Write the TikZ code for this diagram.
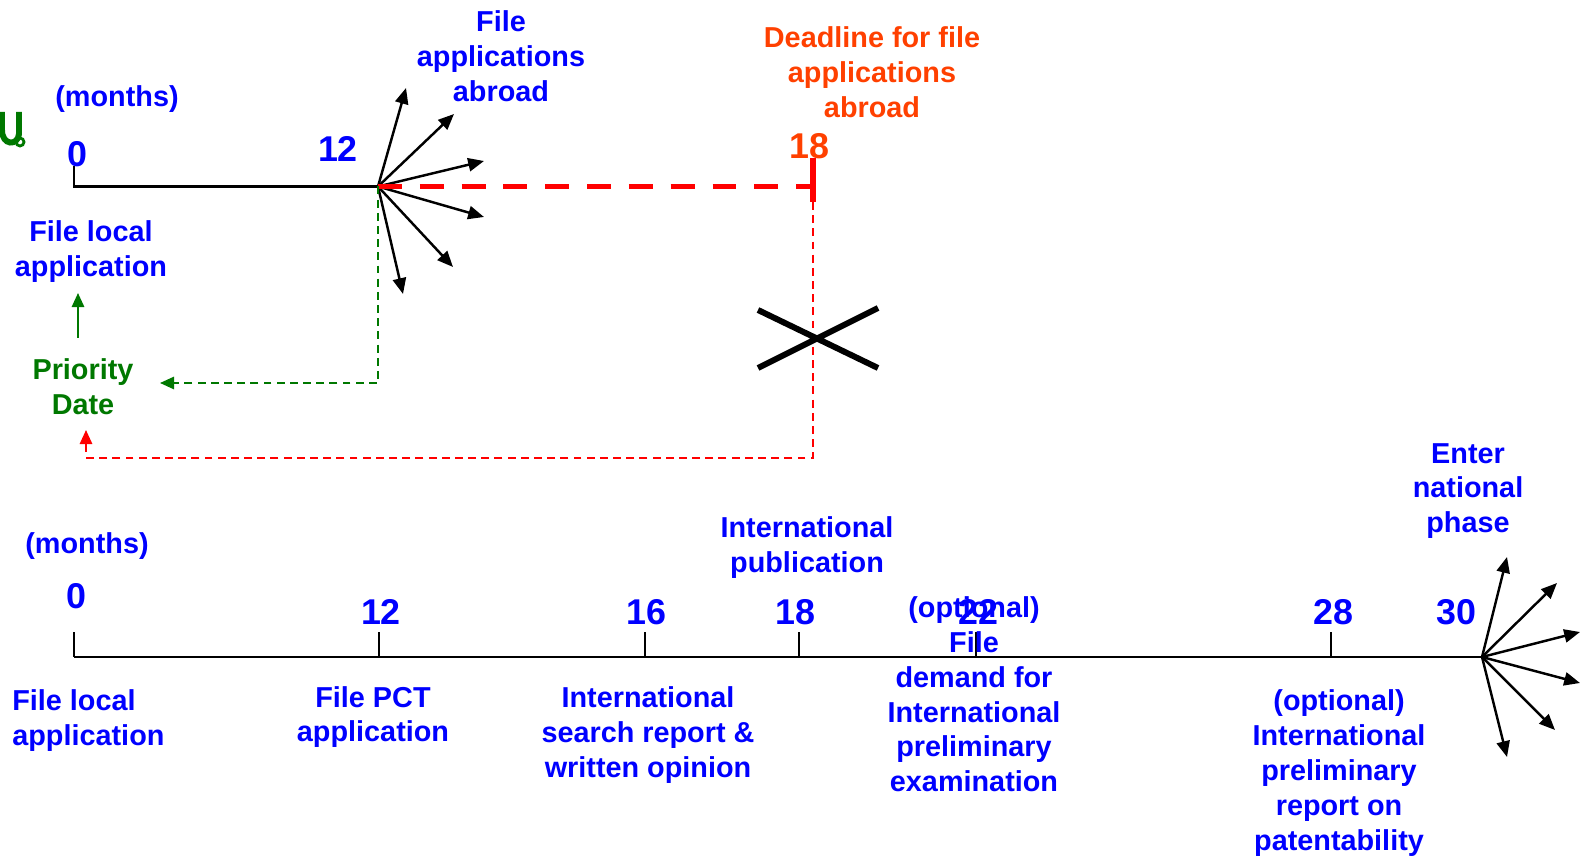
\documentclass[tikz,border=0pt]{standalone}
\usepackage{fontspec}
\setmainfont{Liberation Sans}
\usetikzlibrary{arrows.meta}
\definecolor{tblue}{RGB}{0,0,255}
\definecolor{tgreen}{RGB}{0,120,0}
\definecolor{tred}{RGB}{255,0,0}
\definecolor{torange}{RGB}{255,64,0}
\begin{document}
\begin{tikzpicture}[x=0.02cm,y=-0.02cm,
 lbl/.style={font=\bfseries\fontsize{16.4}{19.8}\selectfont, text=tblue, align=center, inner sep=0pt, yshift=-1.7pt},
 num/.style={font=\bfseries\fontsize{20.4}{24}\selectfont, text=tblue, inner sep=0pt},
 axis/.style={line width=1.2pt, draw=black},
 fan/.style={line width=1.4pt, -{Triangle[length=9pt,width=7.5pt]}},
 thickred/.style={draw=tred, line width=3.4pt},
 thindash/.style={line width=1.2pt, dash pattern=on 4.5pt off 3pt},
]
\useasboundingbox (0,0) rectangle (1581,857);

% clipped green glyph at left edge
\draw[tgreen, line width=3.4pt] (2,112) -- (2,130) .. controls (2,146) and (18,146) .. (19,134) -- (19,112);
\draw[tgreen, line width=1.6pt] (20,142) circle (4);

%% ---------- top timeline ----------
\coordinate (t0) at (74,186.5);
\coordinate (t0top) at (74,166);
\coordinate (f1) at (378,186.5);
\coordinate (r18) at (813,186.5);
\coordinate (r18top) at (813,158);
\coordinate (r18bot) at (813,202);
\draw[axis] (t0top) -- (t0) -- (f1);

\node[lbl] (months1) at (117,96) {(months)};
\node[num] (n0a) at (77.6,154) {0};
\node[num] (n12a) at (338,149) {12};
\node[num, text=torange] (n18a) at (809,146) {18};
\node[lbl] (fileabroad) at (501,53.5) {File\\applications\\abroad};
\node[lbl, text=torange] (deadline) at (872,69) {Deadline for file\\applications\\abroad};
\node[lbl] (filelocal1) at (91,248.5) {File local\\application};
\node[lbl, text=tgreen] (priority) at (83,384) {Priority\\Date};

% fan
\foreach \px/\py [count=\i] in {406/88,454/114,484/161,484/217,453/267,403/294}
  \coordinate (fa\i) at (\px,\py);
\foreach \i in {1,...,6} \draw[fan] (f1) -- (fa\i);

% red deadline dashes
\draw[thickred, dash pattern=on 13.6pt off 10.2pt] (f1) -- (r18);
\draw[thickred] (r18top) -- (r18bot);

% green dashed to priority date
\coordinate (g1) at (378,383);
\coordinate (g2) at (160,383);
\draw[thindash, tgreen, -{Triangle[length=8pt,width=7pt]}] (f1) -- (g1) -- (g2);
\coordinate (gu1) at (78,338);
\coordinate (gu2) at (78,293);
\draw[line width=1.2pt, tgreen, -{Triangle[length=8pt,width=7pt]}] (gu1) -- (gu2);

% red dashed back to priority date
\coordinate (rd1) at (813,458);
\coordinate (rd2) at (86,458);
\coordinate (rd2b) at (86,452);
\coordinate (rd3) at (86,430);
\draw[thindash, tred] (r18bot) -- (rd1) -- (rd2);
\draw[line width=1.2pt, tred, -{Triangle[length=8pt,width=7pt]}] (rd2b) -- (rd3);

% big X
\coordinate (x1) at (758,310);
\coordinate (x2) at (878,368);
\coordinate (x3) at (758,368);
\coordinate (x4) at (878,308);
\draw[line width=3.4pt] (x1) -- (x2) (x3) -- (x4);

%% ---------- bottom timeline ----------
\coordinate (b0) at (74,657);
\coordinate (f2) at (1482,657);
\draw[axis] (b0) -- (f2);
\foreach \x in {74,379,645,799,976,1331}
  \draw[axis] (\x,632) -- (\x,657);

\node[lbl] (months2) at (87,543) {(months)};
\node[num] (n0b) at (76,596) {0};
\node[num] (n12b) at (381,612) {12};
\node[num] (n16b) at (646,612) {16};
\node[num] (n18b) at (795,612) {18};
\node[num] (n22b) at (978,612) {22};
\node[num] (n28b) at (1333,612) {28};
\node[num] (n30b) at (1456,612) {30};

\foreach \px/\py [count=\i] in {1507/557,1557/583,1580/632,1580/683,1555/730,1507/757}
  \coordinate (fb\i) at (\px,\py);
\foreach \i in {1,...,6} \draw[fan] (f2) -- (fb\i);

\node[lbl] (enter) at (1468,488) {Enter\\national\\phase};
\node[lbl] (pub) at (807,544.5) {International\\publication};
\node[lbl] (demand) at (974,691.5) {(optional)\\File\\demand for\\International\\preliminary\\examination};
\node[lbl, align=left, anchor=west] (filelocal2) at (12,717.5) {File local\\application};
\node[lbl] (filepct) at (373,714) {File PCT\\application};
\node[lbl] (isr) at (648,732) {International\\search report \&\\written opinion};
\node[lbl] (iprp) at (1339,770) {(optional)\\International\\preliminary\\report on\\patentability};
\end{tikzpicture}
\end{document}
